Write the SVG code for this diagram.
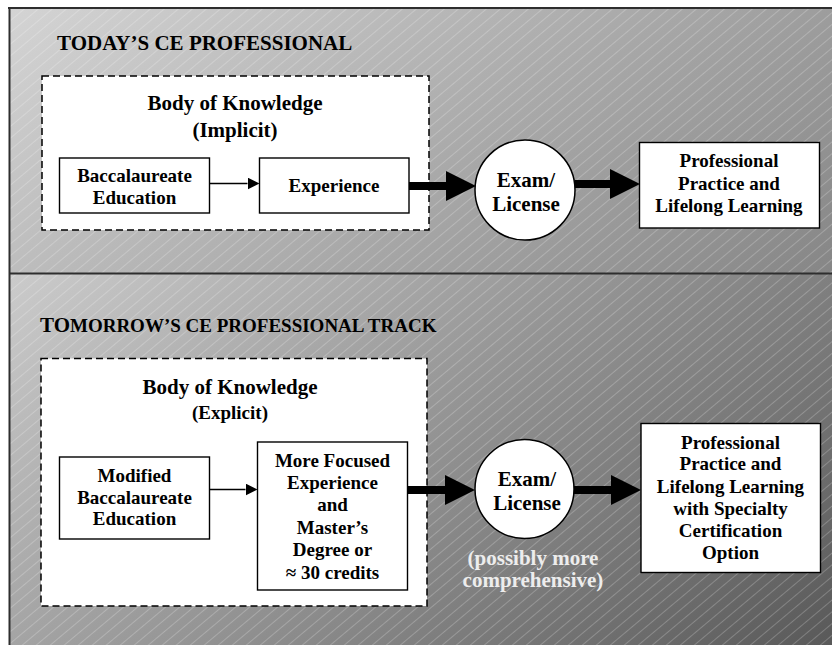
<svg xmlns="http://www.w3.org/2000/svg" width="832" height="645" viewBox="0 0 832 645">
  <defs>
    <linearGradient id="gradTop" gradientUnits="userSpaceOnUse" x1="9" y1="7" x2="446" y2="572">
      <stop offset="0" stop-color="#d4d4d4"/>
      <stop offset="1" stop-color="#868686"/>
    </linearGradient>
    <linearGradient id="gradBottom" gradientUnits="userSpaceOnUse" x1="9" y1="274" x2="549" y2="892">
      <stop offset="0" stop-color="#cbcbcb"/>
      <stop offset="1" stop-color="#595959"/>
    </linearGradient>
    <pattern id="hatch" patternUnits="userSpaceOnUse" width="40" height="9" patternTransform="rotate(-40)">
      <line x1="0" y1="4.5" x2="40" y2="4.5" stroke="#ffffff" stroke-opacity="0.22" stroke-width="1"/>
    </pattern>
    <marker id="headThin" markerUnits="userSpaceOnUse" viewBox="0 0 12 12" markerWidth="12" markerHeight="12" refX="0" refY="6" orient="auto">
      <path d="M0,0 L12,6 L0,12 z" fill="#000"/>
    </marker>
    <marker id="headThick" markerUnits="userSpaceOnUse" viewBox="0 0 30 30" markerWidth="30" markerHeight="30" refX="0" refY="15" orient="auto">
      <path d="M0,0 L30,15 L0,30 z" fill="#000"/>
    </marker>
  </defs>
  <style>
    text { font-family: "Liberation Serif", "Times New Roman", serif; font-weight: bold; fill: #000; }
    .title { font-size: 21px; }
    .big { font-size: 21px; text-anchor: middle; }
    .lbl { font-size: 19px; text-anchor: middle; }
    .note { font-size: 21px; text-anchor: middle; fill: #ededed; }
    .bok { fill: #fff; stroke: #000; stroke-width: 1.5; stroke-dasharray: 7 4; }
    .box { fill: #fff; stroke: #000; stroke-width: 1.4; }
    .exam { fill: #fff; stroke: #000; stroke-width: 1.5; }
    .thin { stroke: #000; stroke-width: 1.4; fill: none; marker-end: url(#headThin); }
    .thick { stroke: #000; stroke-width: 8; fill: none; marker-end: url(#headThick); }
    .rule { stroke: #2e2e2e; stroke-width: 2; }
  </style>

  <!-- panel backgrounds -->
  <rect x="9" y="7" width="823" height="267" fill="url(#gradTop)"/>
  <rect x="9" y="7" width="823" height="267" fill="url(#hatch)"/>
  <rect x="9" y="274" width="823" height="371" fill="url(#gradBottom)"/>
  <rect x="9" y="274" width="823" height="371" fill="url(#hatch)"/>
  <line class="rule" x1="8" y1="8" x2="832" y2="8"/>
  <line class="rule" x1="9.5" y1="7" x2="9.5" y2="645"/>
  <line class="rule" x1="9" y1="273.5" x2="832" y2="273.5"/>

  <!-- today's track -->
  <text class="title" x="57" y="50">TODAY’S CE PROFESSIONAL</text>

  <g id="bok-today">
    <rect class="bok" x="42" y="76" width="387" height="154"/>
    <text class="big" x="235" y="110">Body of Knowledge</text>
    <text class="big" x="235" y="137">(Implicit)</text>
  </g>
  <g id="bacc-today">
    <rect class="box" x="59.5" y="158" width="150" height="55"/>
    <text class="lbl" x="134.5" y="182">Baccalaureate</text>
    <text class="lbl" x="134.5" y="204">Education</text>
  </g>
  <g id="experience-today">
    <rect class="box" x="259.5" y="158" width="149.5" height="55"/>
    <text class="lbl" x="334" y="192">Experience</text>
  </g>
  <g id="exam-today">
    <circle class="exam" cx="525" cy="190" r="50"/>
    <text class="big" x="526" y="187">Exam/</text>
    <text class="big" x="526" y="211">License</text>
  </g>
  <g id="practice-today">
    <rect class="box" x="639.5" y="142.5" width="180" height="85.5"/>
    <text class="lbl" x="729" y="167">Professional</text>
    <text class="lbl" x="729" y="189.5">Practice and</text>
    <text class="lbl" x="729" y="212">Lifelong Learning</text>
  </g>

  <!-- tomorrow's track -->
  <text class="title" x="40" y="332">TO<tspan font-size="19">MORROW’S CE PROFESSIONAL TRACK</tspan></text>

  <g id="bok-tomorrow">
    <rect class="bok" x="41" y="358.5" width="386" height="247.5"/>
    <text class="big" x="230" y="394">Body of Knowledge</text>
    <text class="lbl" x="230" y="419">(Explicit)</text>
  </g>
  <g id="bacc-tomorrow">
    <rect class="box" x="59.5" y="457" width="150" height="82"/>
    <text class="lbl" x="134.5" y="482">Modified</text>
    <text class="lbl" x="134.5" y="503.5">Baccalaureate</text>
    <text class="lbl" x="134.5" y="525">Education</text>
  </g>
  <g id="experience-tomorrow">
    <rect class="box" x="257.5" y="442" width="150" height="148"/>
    <text class="lbl" x="332.5" y="467">More Focused</text>
    <text class="lbl" x="332.5" y="489">Experience</text>
    <text class="lbl" x="332.5" y="511">and</text>
    <text class="lbl" x="332.5" y="533.5">Master’s</text>
    <text class="lbl" x="332.5" y="556">Degree or</text>
    <text class="lbl" x="332.5" y="578.5">≈ 30 credits</text>
  </g>
  <g id="exam-tomorrow">
    <circle class="exam" cx="524.5" cy="489" r="49.5"/>
    <text class="big" x="527" y="486">Exam/</text>
    <text class="big" x="527" y="510">License</text>
    <text class="note" x="533" y="565">(possibly more</text>
    <text class="note" x="533" y="587">comprehensive)</text>
  </g>
  <g id="practice-tomorrow">
    <rect class="box" x="641" y="423.5" width="179.5" height="149"/>
    <text class="lbl" x="730.5" y="448.5">Professional</text>
    <text class="lbl" x="730.5" y="470">Practice and</text>
    <text class="lbl" x="730.5" y="493">Lifelong Learning</text>
    <text class="lbl" x="730.5" y="515">with Specialty</text>
    <text class="lbl" x="730.5" y="537">Certification</text>
    <text class="lbl" x="730.5" y="558.5">Option</text>
  </g>

  <!-- connectors -->
  <g id="connectors">
    <line class="thin" x1="209.5" y1="183.5" x2="247.5" y2="183.5"/>
    <line class="thick" x1="409" y1="186" x2="446" y2="186"/>
    <line class="thick" x1="575" y1="184" x2="610" y2="184"/>
    <line class="thin" x1="209.5" y1="489.5" x2="245.5" y2="489.5"/>
    <line class="thick" x1="407.5" y1="490" x2="445" y2="490"/>
    <line class="thick" x1="574" y1="490" x2="611" y2="490"/>
  </g>
</svg>
